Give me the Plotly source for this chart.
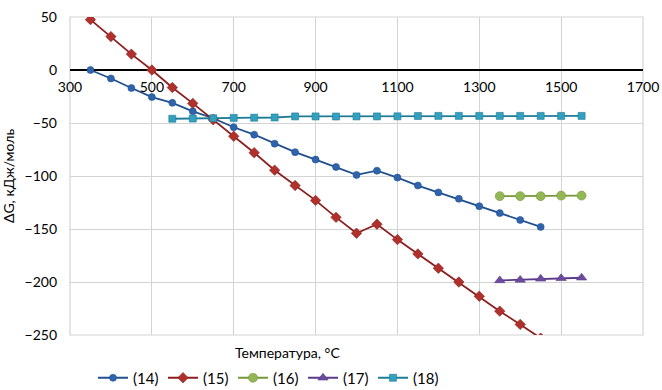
import plotly.graph_objects as go

# Data
t14 = [350, 400, 450, 500, 550, 600, 650, 700, 750, 800, 850, 900, 950, 1000,
       1050, 1100, 1150, 1200, 1250, 1300, 1350, 1400, 1450]
g14 = [0, -8, -17, -25.5, -31, -39, -45.5, -54, -61, -69.5, -77.5, -84.5, -91.5, -99,
       -95, -101.5, -109, -115.5, -121.5, -128.5, -135, -141.5, -148]
t15 = t14
g15 = [47.5, 31.5, 15, 0, -16.5, -31.5, -47, -62.5, -78, -94.5, -109, -123, -139, -154,
       -145.5, -160, -173.5, -187, -200, -213.5, -227.5, -240, -253]
t16 = [1350, 1400, 1450, 1500, 1550]
g16 = [-119, -119, -119, -118.5, -118.5]
t17 = [1350, 1400, 1450, 1500, 1550]
g17 = [-198.5, -198, -197, -196.5, -196]
t18 = [550, 600, 650, 700, 750, 800, 850, 900, 950, 1000, 1050, 1100, 1150, 1200,
       1250, 1300, 1350, 1400, 1450, 1500, 1550]
g18 = [-46, -45.8, -45.5, -45.2, -45, -44.8, -43.8, -43.8, -43.9, -43.8, -43.8, -43.7,
       -43.4, -43.3, -43.3, -43.3, -43.3, -43.3, -43.3, -43.3, -43.3]
names = ["(14)", "(15)", "(16)", "(17)", "(18)"]

series = [
    (t14, g14, "#21508f", "#2f64ad", "circle", 7),
    (t15, g15, "#8c1f1d", "#b0302c", "diamond", 8),
    (t16, g16, "#76973a", "#93b754", "circle", 9),
    (t17, g17, "#5a3a88", "#6c4a9e", "triangle-up", 9),
    (t18, g18, "#1f7c96", "#33a0bf", "square", 7),
]

fig = go.Figure()
for (x, y, lc, mc, sym, ms), nm in zip(series, names):
    fig.add_trace(go.Scatter(
        x=x, y=y, name=nm, mode="lines+markers",
        line=dict(color=lc, width=1.8),
        marker=dict(symbol=sym, size=ms, color=mc, line=dict(color=lc, width=0.6)),
    ))

font = "Lato, 'Open Sans', sans-serif"
fig.update_layout(
    width=662, height=390,
    margin=dict(l=70, r=19, t=17, b=55, autoexpand=False),
    paper_bgcolor="white", plot_bgcolor="white",
    font=dict(family=font, size=12, color="#000000"),
    showlegend=True,
    legend=dict(orientation="h", x=268 / 662, xref="container", xanchor="center",
                y=1 - 378 / 390, yref="container", yanchor="middle",
                font=dict(size=15), itemwidth=30, entrywidth=25, entrywidthmode="pixels",
                tracegroupgap=0),
    xaxis=dict(range=[300, 1700], dtick=200, tick0=300, anchor="free", position=250/300,
               showgrid=True, gridcolor="#d4d4d4", gridwidth=1.2, zeroline=False,
               showline=False, ticks="", tickfont=dict(size=14), ticklabelstandoff=7),
    yaxis=dict(range=[-250, 50], dtick=50, showgrid=True, gridcolor="#d4d4d4", gridwidth=1.2,
               zeroline=True, zerolinecolor="#000000", zerolinewidth=1.6,
               showline=False, ticks="", tickfont=dict(size=14), ticklabelstandoff=12,
               title=dict(text="ΔG, кДж/моль", font=dict(size=14), standoff=10)),
    shapes=[dict(type="rect", xref="paper", yref="paper", x0=0, x1=1, y0=0, y1=1,
                 line=dict(color="#d4d4d4", width=1.2), layer="below")],
    annotations=[dict(text="Температура, °C", xref="paper", yref="paper",
                      x=(287 - 70) / 573, y=(335 - 352) / 318, xanchor="center",
                      yanchor="middle", showarrow=False, font=dict(size=14))],
)
fig.write_html("out.html")
